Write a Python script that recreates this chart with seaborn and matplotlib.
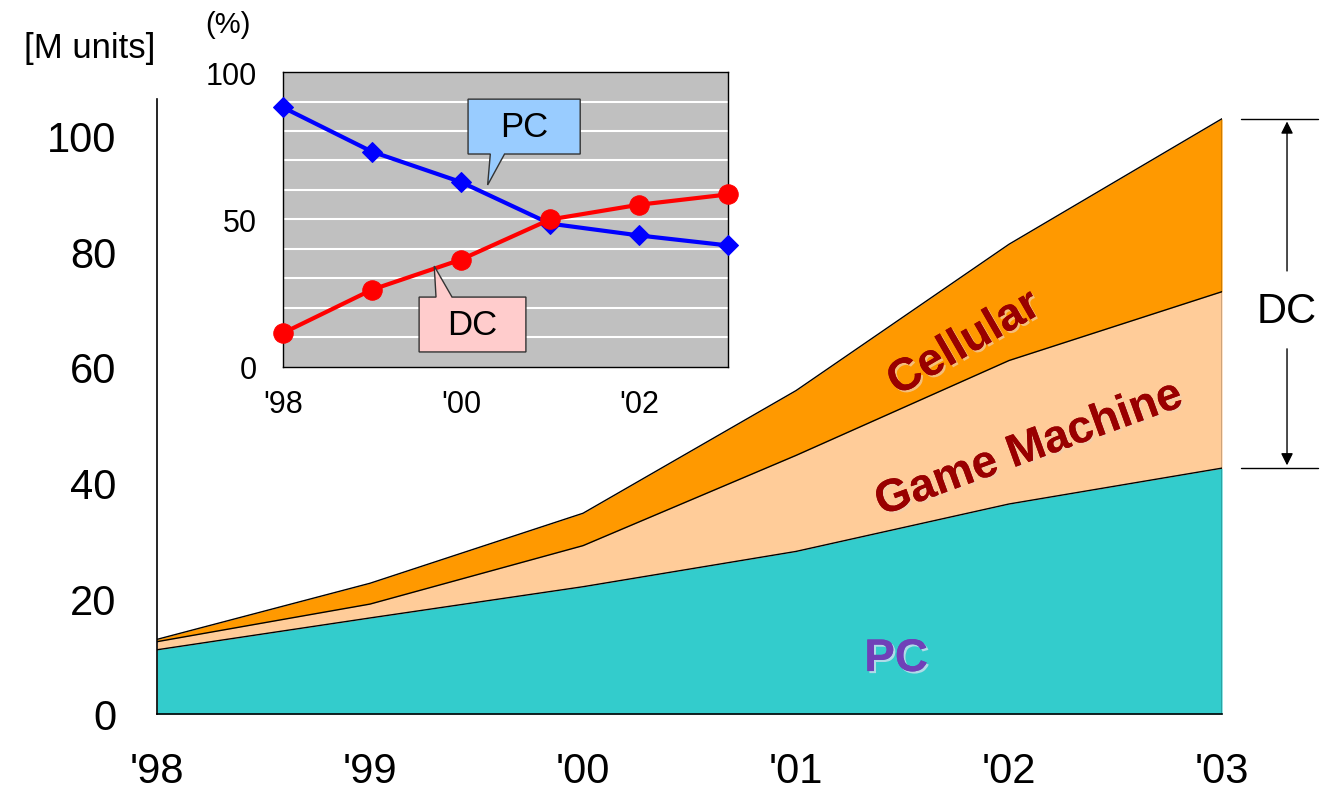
#!/usr/bin/env python3
# Digital consumer device shipments (stacked area) with PC/DC share inset
import numpy as np
import pandas as pd
import matplotlib
matplotlib.use("Agg")
import matplotlib.pyplot as plt
import matplotlib.patheffects as pe
from matplotlib.patches import Polygon
import seaborn as sns

# Data
years = ["'98", "'99", "'00", "'01", "'02", "'03"]
pc_units = [11.1, 16.6, 22.0, 28.1, 36.3, 42.5]
game_units = [1.4, 2.4, 7.1, 16.6, 24.8, 30.5]
cell_units = [0.4, 3.6, 5.6, 11.2, 20.1, 29.9]

pc_share = [88.0, 73.0, 62.7, 48.6, 44.6, 41.2]
dc_share = [11.5, 26.2, 36.4, 50.0, 55.0, 58.5]
inset_tick_labels = ["'98", "", "'00", "", "'02", ""]

C_PC = "#33CCCC"
C_GAME = "#FFCC99"
C_CELL = "#FF9900"
C_LABEL = "#990000"

sns.set_style("white")
plt.rcParams["font.family"] = ["Liberation Sans", "DejaVu Sans"]

xpos = np.arange(len(years))
df = pd.DataFrame({"x": xpos, "PC": pc_units, "Game": game_units, "Cell": cell_units})
lvl1 = df["PC"].values
lvl2 = lvl1 + df["Game"].values
lvl3 = lvl2 + df["Cell"].values

fig = plt.figure(figsize=(13.24, 8.04), dpi=100)
ax = fig.add_axes([0.1186, 0.1107, 0.8044, 0.7649])

ax.fill_between(xpos, 0, lvl1, color=C_PC, lw=0)
ax.fill_between(xpos, lvl1, lvl2, color=C_GAME, lw=0)
ax.fill_between(xpos, lvl2, lvl3, color=C_CELL, lw=0)
for lv in (lvl1, lvl2, lvl3):
    sns.lineplot(x=xpos, y=lv, color="black", lw=1, ax=ax)
ax.plot([xpos[-1], xpos[-1]], [0, lvl3[-1]], color="black", lw=1)

ax.set_xlim(0, 5)
ax.set_ylim(0, 106.3)
ax.set_xticks(xpos)
ax.set_xticklabels(years)
ax.set_yticks(np.arange(0, 101, 20))
ax.tick_params(axis="x", direction="in", length=11, width=1.2, labelsize=30, pad=27, colors="black")
ax.tick_params(axis="y", direction="in", length=11, width=1.2, labelsize=30, pad=29, colors="black")
sns.despine(ax=ax, top=True, right=True)
for s in ("left", "bottom"):
    ax.spines[s].set_color("black")
    ax.spines[s].set_linewidth(1.2)

shadow = [pe.withSimplePatchShadow(offset=(1.5, -1.5), shadow_rgbFace="#f0d0b0", alpha=0.7), pe.Normal()]
ax.text(3.79, 64.0, "Cellular", rotation=30, rotation_mode="anchor", ha="center", va="center",
        fontsize=33, fontweight="bold", color=C_LABEL, path_effects=shadow)
ax.text(4.095, 45.8, "Game Machine", rotation=20, rotation_mode="anchor", ha="center", va="center",
        fontsize=33, fontweight="bold", color=C_LABEL, path_effects=shadow)
ax.text(3.47, 9.5, "PC", ha="center", va="center", fontsize=33, fontweight="bold", color="#7040B8",
        path_effects=[pe.withSimplePatchShadow(offset=(1.5, -1.5), shadow_rgbFace="#d0e0f0", alpha=0.8), pe.Normal()])

# DC bracket on the right
for yv in (lvl3[-1], lvl1[-1]):
    ax.plot([5.09, 5.45], [yv, yv], color="black", lw=1, clip_on=False)
ax.annotate("", xy=(5.305, lvl3[-1]), xytext=(5.305, 76.1),
            arrowprops=dict(arrowstyle="-|>", color="black", lw=1, mutation_scale=18), annotation_clip=False)
ax.annotate("", xy=(5.305, lvl1[-1]), xytext=(5.305, 63.6),
            arrowprops=dict(arrowstyle="-|>", color="black", lw=1, mutation_scale=18), annotation_clip=False)
ax.text(5.305, 69.6, "DC", ha="center", va="center", fontsize=30, color="black", clip_on=False)

fig.text(0.068, 0.940, "[M units]", ha="center", va="center", fontsize=25, color="black")
fig.text(0.172, 0.969, "(%)", ha="center", va="center", fontsize=21, color="black")

# Inset: share of PC vs DC
ax2 = fig.add_axes([0.2137, 0.5423, 0.3361, 0.3669])
ax2.set_facecolor("#C0C0C0")
for g in range(10, 100, 10):
    ax2.axhline(g, color="white", lw=1.5, zorder=0)
sns.lineplot(x=xpos, y=pc_share, color="#0000FF", lw=3, marker="D", markersize=10,
             markeredgecolor="#0000FF", ax=ax2, clip_on=False, zorder=3)
sns.lineplot(x=xpos, y=dc_share, color="#FF0000", lw=3, marker="o", markersize=14,
             markeredgecolor="#FF0000", ax=ax2, clip_on=False, zorder=4)
ax2.set_xlim(0, 5)
ax2.set_ylim(0, 100)
ax2.set_xticks(xpos)
ax2.set_xticklabels(inset_tick_labels)
ax2.set_yticks([0, 50, 100])
ax2.tick_params(axis="x", direction="in", length=7, width=1, labelsize=22, pad=16, colors="black")
ax2.tick_params(axis="y", direction="in", length=7, width=1, labelsize=22, pad=19, colors="black")
for s in ax2.spines.values():
    s.set_color("black")
    s.set_linewidth(1)
    s.set_visible(True)

# Callouts
pc_box = [(2.08, 90.8), (3.34, 90.8), (3.34, 72.2), (2.49, 72.2), (2.30, 61.7), (2.33, 72.2), (2.08, 72.2)]
dc_box = [(1.53, 23.7), (1.72, 23.7), (1.70, 34.2), (1.90, 23.7), (2.73, 23.7), (2.73, 5.1), (1.53, 5.1)]
ax2.add_patch(Polygon(pc_box, closed=True, facecolor="#99CCFF", edgecolor="#333333", lw=1, zorder=5))
ax2.add_patch(Polygon(dc_box, closed=True, facecolor="#FFCCCC", edgecolor="#333333", lw=1, zorder=5))
ax2.text(2.71, 81.5, "PC", ha="center", va="center", fontsize=25, color="black", zorder=6)
ax2.text(2.13, 14.4, "DC", ha="center", va="center", fontsize=25, color="black", zorder=6)

fig.savefig("out.png", dpi=100)
